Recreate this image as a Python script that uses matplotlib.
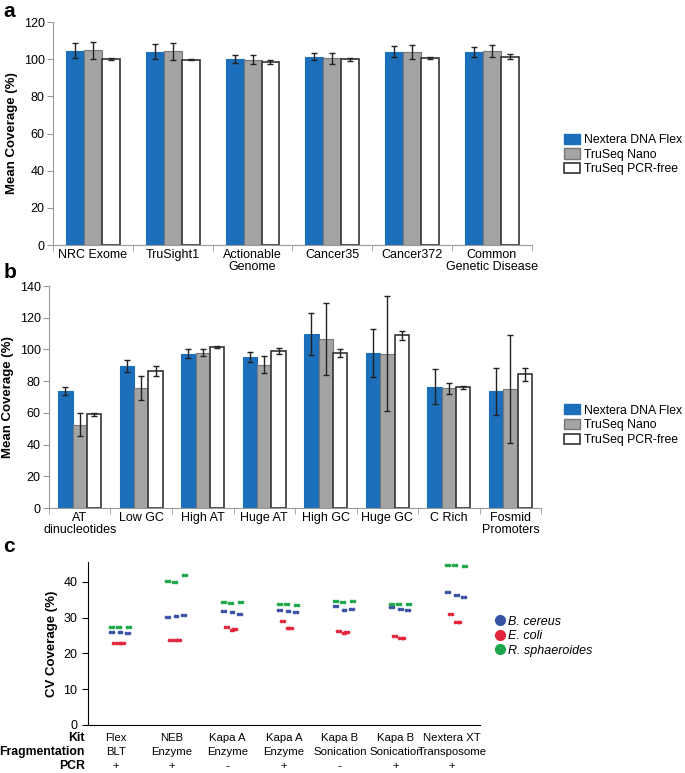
import numpy as np
import matplotlib
matplotlib.use('Agg')
import matplotlib.pyplot as plt
from matplotlib.patches import Patch
from matplotlib.lines import Line2D

plt.rcParams['font.family'] = ['Liberation Sans', 'DejaVu Sans']
plt.rcParams['font.size'] = 9

kits = ['Nextera DNA Flex', 'TruSeq Nano', 'TruSeq PCR-free']

# panel a
cats_a = ['NRC Exome', 'TruSight1', 'Actionable\nGenome', 'Cancer35', 'Cancer372', 'Common\nGenetic Disease']
flex_a = [104.5, 104.0, 100.0, 101.3, 104.0, 104.0]
nano_a = [104.8, 104.2, 99.7, 100.4, 104.0, 104.4]
free_a = [100.0, 99.8, 98.6, 100.0, 100.6, 101.3]
flex_a_err = [4.0, 4.0, 2.0, 1.9, 2.9, 2.7]
nano_a_err = [4.5, 4.5, 2.5, 3.2, 3.9, 3.3]
free_a_err = [0.5, 0.5, 1.0, 0.8, 0.6, 1.4]

# panel b
cats_b = ['AT\ndinucleotides', 'Low GC', 'High AT', 'Huge AT', 'High GC', 'Huge GC', 'C Rich', 'Fosmid\nPromoters']
flex_b = [73.5, 89.6, 97.4, 95.3, 109.8, 97.8, 76.6, 73.5]
nano_b = [52.5, 75.5, 98.0, 90.5, 106.6, 97.4, 75.4, 74.9]
free_b = [59.0, 86.5, 101.4, 98.9, 97.8, 108.9, 76.0, 84.4]
flex_b_err = [2.5, 3.8, 2.8, 3.3, 13.4, 15.4, 11.0, 14.7]
nano_b_err = [7.3, 7.5, 2.3, 5.3, 23.0, 36.0, 3.5, 34.0]
free_b_err = [1.0, 3.0, 0.6, 1.8, 2.4, 3.0, 1.0, 4.0]

# panel c
kit_c = ['Flex', 'NEB', 'Kapa A', 'Kapa A', 'Kapa B', 'Kapa B', 'Nextera XT']
frag_c = ['BLT', 'Enzyme', 'Enzyme', 'Enzyme', 'Sonication', 'Sonication', 'Transposome']
pcr_c = ['+', '+', '-', '+', '-', '+', '+']
species = ['B. cereus', 'E. coli', 'R. sphaeroides']
cereus = [[25.9, 26.0, 25.6], [30.2, 30.4, 30.7], [31.8, 31.5, 31.1], [32.2, 31.8, 31.7], [33.2, 32.2, 32.4], [33.0, 32.5, 32.2], [37.3, 36.3, 35.7]]
coli = [[22.9, 22.9, 23.0], [23.8, 23.8, 23.9], [27.3, 26.6, 26.7], [29.0, 27.1, 27.1], [26.4, 25.7, 26.0], [24.8, 24.2, 24.2], [31.0, 28.7, 28.7]]
sphaer = [[27.4, 27.4, 27.3], [40.2, 40.1, 41.9], [34.3, 34.2, 34.4], [33.7, 33.7, 33.6], [34.6, 34.4, 34.6], [33.7, 33.7, 33.9], [44.8, 44.6, 44.5]]
jit_cereus = [-0.1, 0.05, 0.18]
jit_coli = [-0.05, 0.05, 0.1]
jit_sphaer = [-0.1, 0.02, 0.2]

c_blue = '#1c6fba'
c_gray = '#a4a4a4'
err_kw = dict(ecolor='#222222', capsize=2, elinewidth=1, capthick=1)

fig = plt.figure(figsize=(6.85, 7.73), dpi=100)


def bars(ax, cats, vals, errs, w):
    x = np.arange(len(cats))
    ax.bar(x - w, vals[0], w, yerr=errs[0], color=c_blue, edgecolor=c_blue, lw=0.8, error_kw=err_kw)
    ax.bar(x, vals[1], w, yerr=errs[1], color=c_gray, edgecolor='#777777', lw=0.8, error_kw=err_kw)
    ax.bar(x + w, vals[2], w, yerr=errs[2], color='white', edgecolor='#333333', lw=1.2, error_kw=err_kw)
    ax.set_xlim(-0.5, len(cats) - 0.5)
    ax.set_xticks(x)
    ax.set_xticklabels(cats, fontsize=9, linespacing=1.0)
    ax.set_xticks(np.arange(len(cats) + 1) - 0.5, minor=True)
    ax.tick_params(axis='x', which='major', length=0, pad=3)
    ax.tick_params(axis='x', which='minor', length=4, color='#999999')
    ax.tick_params(axis='y', length=4, color='#999999', labelsize=9, pad=2)
    for s in ['top', 'right']:
        ax.spines[s].set_visible(False)
    for s in ['left', 'bottom']:
        ax.spines[s].set_color('#999999')
    ax.set_ylabel('Mean Coverage (%)', fontweight='bold', fontsize=9.5, labelpad=4)


ax_a = fig.add_axes([0.0774, 0.683, 0.699, 0.2885])
bars(ax_a, cats_a, [flex_a, nano_a, free_a], [flex_a_err, nano_a_err, free_a_err], 0.225)
ax_a.set_ylim(0, 120)
ax_a.set_yticks(range(0, 121, 20))

ax_b = fig.add_axes([0.0715, 0.3428, 0.7185, 0.2872])
bars(ax_b, cats_b, [flex_b, nano_b, free_b], [flex_b_err, nano_b_err, free_b_err], 0.233)
ax_b.set_ylim(0, 140)
ax_b.set_yticks(range(0, 141, 20))

handles = [Patch(facecolor=c_blue, edgecolor=c_blue),
           Patch(facecolor=c_gray, edgecolor='#777777'),
           Patch(facecolor='white', edgecolor='#333333', lw=1.2)]
for y in [0.8, 0.45]:
    fig.legend(handles, kits, loc='center left', bbox_to_anchor=(0.807, y), frameon=False,
               fontsize=8.8, handlelength=1.3, handleheight=0.9, handletextpad=0.35, labelspacing=0.2)

# panel c
ax_c = fig.add_axes([0.128, 0.0621, 0.5727, 0.211])
cols = ['#3853a6', '#e3253b', '#1ea64a']
for i in range(len(kit_c)):
    for vals, jit, col in [(cereus[i], jit_cereus, cols[0]), (coli[i], jit_coli, cols[1]), (sphaer[i], jit_sphaer, cols[2])]:
        ax_c.scatter(i + np.array(jit), vals, s=7, color=col, marker='o', lw=0)
        ax_c.scatter(i + np.array(jit) + 0.05, vals, s=7, color=col, marker='o', lw=0)
ax_c.set_xlim(-0.5, len(kit_c) - 0.5)
ax_c.set_ylim(0, 45.6)
ax_c.set_yticks(range(0, 41, 10))
ax_c.set_xticks([])
ax_c.tick_params(axis='y', length=4, labelsize=9)
for s in ['top', 'right']:
    ax_c.spines[s].set_visible(False)
ax_c.set_ylabel('CV Coverage (%)', fontweight='bold', fontsize=9.5)

# kit / fragmentation / PCR rows under panel c
row_y = [0.0452, 0.027, 0.0095]
for i in range(len(kit_c)):
    fig_x = fig.transFigure.inverted().transform(ax_c.transData.transform((i, 0)))[0]
    for labels, yy in zip([kit_c, frag_c, pcr_c], row_y):
        fig.text(fig_x, yy, labels[i], ha='center', va='center', fontsize=8.2)
for name, yy in zip(['Kit', 'Fragmentation', 'PCR'], row_y):
    fig.text(0.124, yy, name, ha='right', va='center', fontweight='bold', fontsize=8.8)

sp_handles = [Line2D([], [], marker='o', ls='', color=c, markersize=7) for c in cols]
leg = fig.legend(sp_handles, species, loc='center left', bbox_to_anchor=(0.705, 0.177), frameon=False,
                 fontsize=9, handletextpad=0.1, labelspacing=0.2, handlelength=1.0)
for t in leg.get_texts():
    t.set_style('italic')

fig.text(0.005, 0.998, 'a', fontsize=15, fontweight='bold', va='top')
fig.text(0.005, 0.66, 'b', fontsize=15, fontweight='bold', va='top')
fig.text(0.005, 0.305, 'c', fontsize=15, fontweight='bold', va='top')

fig.savefig('out.png', dpi=100)
